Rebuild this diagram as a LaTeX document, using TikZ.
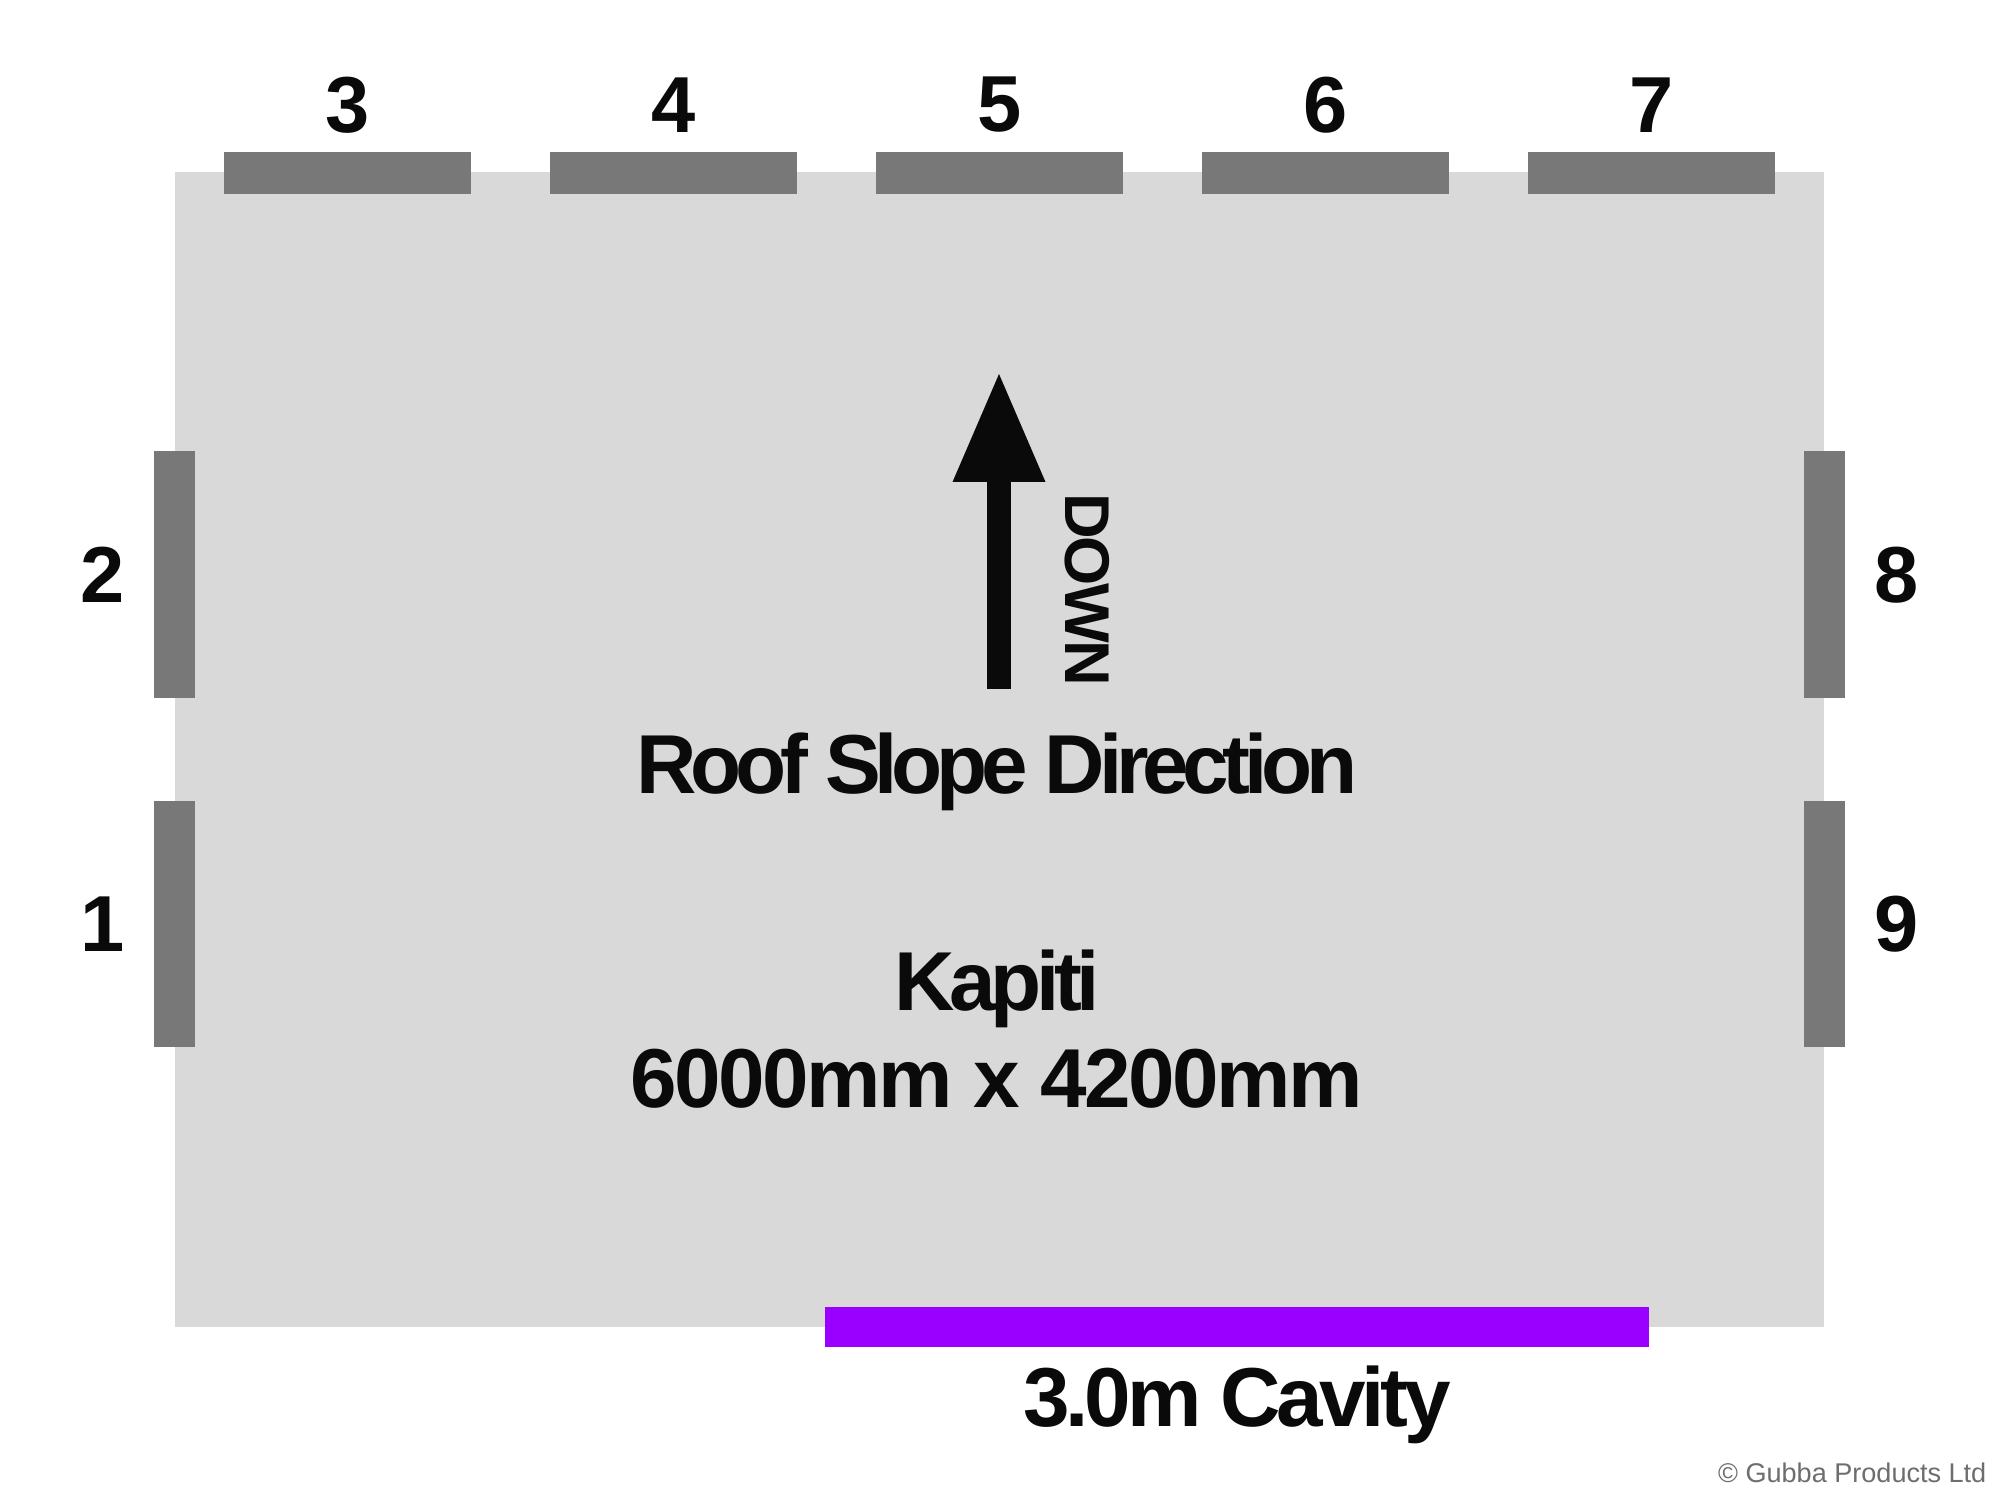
\documentclass[tikz,border=0pt]{standalone}
\usepackage{fontspec}
\setmainfont{Liberation Sans}
\newfontfamily\rooffont[LetterSpace=-4]{Liberation Sans}
\usetikzlibrary{arrows.meta}

\definecolor{roofgrey}{HTML}{D9D9D9}
\definecolor{panelgrey}{HTML}{787878}
\definecolor{cavitypurple}{HTML}{9900FF}
\definecolor{inkblack}{HTML}{0A0A0A}
\definecolor{notegrey}{HTML}{6E6E6E}

\newcommand{\tracked}[2]{{\addfontfeatures{LetterSpace=#1}#2}}

\tikzset{
	panel/.style={fill=panelgrey},
	numlabel/.style={text=inkblack, inner sep=0pt, font=\rooffont\bfseries\fontsize{22.6}{26}\selectfont},
	biglabel/.style={text=inkblack, inner sep=0pt, anchor=base, font=\rooffont\bfseries\fontsize{23.8}{28}\selectfont},
}

\begin{document}
\begin{tikzpicture}
			%%%%% START %%%%%
			\useasboundingbox (0, 0) rectangle (20, 15);
			\fill[white] (0, 0) rectangle (20, 15);
			
			\fill[roofgrey] (1.75, 1.73) rectangle (18.24, 13.28);
			
			% top panels 3 to 7
			\foreach \i [count=\n from 3] in {0,...,4}{
				\fill[panel] ({2.24+3.26*\i}, 13.06) rectangle ({4.71+3.26*\i}, 13.48);
				\node[numlabel] (lbl\n) at ({3.475+3.26*\i}, 13.95) {\n};
			}
			
			% side panels
			\fill[panel] (1.54, 8.02) rectangle (1.95, 10.49);
			\fill[panel] (1.54, 4.53) rectangle (1.95, 6.99);
			\fill[panel] (18.04, 8.02) rectangle (18.45, 10.49);
			\fill[panel] (18.04, 4.53) rectangle (18.45, 6.99);
			\node[numlabel] (lbl2) at (1.03, 9.25) {2};
			\node[numlabel] (lbl1) at (1.03, 5.76) {1};
			\node[numlabel] (lbl8) at (18.97, 9.25) {8};
			\node[numlabel] (lbl9) at (18.97, 5.76) {9};
			
			% slope arrow
			\coordinate (tail) at (9.99, 8.11);
			\coordinate (tip) at (9.99, 11.26);
			\draw[line width=0.24cm, inkblack, -{Triangle[length=1.08cm, width=0.93cm, line width=0pt]}] (tail) -- (tip);
			\node[text=inkblack, inner sep=0pt, rotate=-90, font=\rooffont\bfseries\fontsize{18}{21}\selectfont] (down) at (10.87, 9.10) {DOWN};
			
			\node[biglabel] (slope) at (9.97, 7.07) {\tracked{-7.5}{Roof Slope Direction}};
			\node[biglabel] (model) at (9.97, 4.90) {\tracked{-6.5}{Kapiti}};
			\node[biglabel] (size) at (9.97, 3.93) {\tracked{-3}{6000mm x 4200mm}};
			
			% cavity
			\fill[cavitypurple] (8.25, 1.53) rectangle (16.49, 1.93);
			\node[biglabel] (cavity) at (12.37, 0.74) {\tracked{-5}{3.0m Cavity}};
			
			\node[text=notegrey, inner sep=0pt, anchor=east, font=\fontsize{7.7}{9}\selectfont] (credit) at (19.87, 0.27) {© Gubba Products Ltd};
			%%%%% END %%%%%
\end{tikzpicture}
\end{document}
